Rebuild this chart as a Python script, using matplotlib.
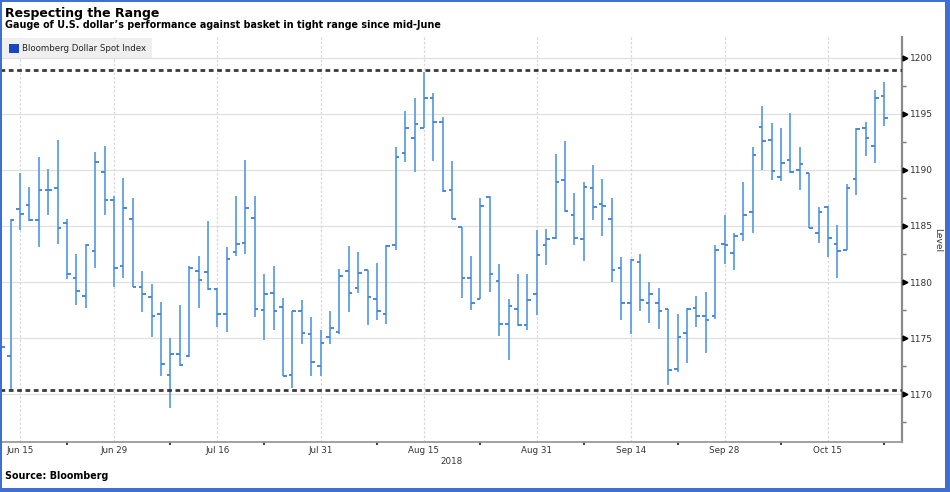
import matplotlib
matplotlib.use("Agg")
import matplotlib.pyplot as plt
import matplotlib.transforms as mtransforms
from matplotlib.patches import Rectangle
import pandas as pd
import numpy as np

# ---------------- data ----------------
dates = pd.bdate_range("2018-06-13", "2018-10-23")

opens = [1176.5, 1173.4, 1186.5, 1186.9, 1185.5, 1188.2, 1188.4, 1185.3, 1180.4, 1178.8,
         1182.8, 1189.8, 1187.3, 1181.4, 1185.6, 1179.6, 1178.7, 1177.2, 1171.7, 1173.6,
         1173.4, 1181.0, 1180.9, 1179.4, 1177.2, 1182.7, 1183.5, 1185.7, 1177.5, 1179.0,
         1177.8, 1171.7, 1177.4, 1175.4, 1172.5, 1175.1, 1175.6, 1181.0, 1179.5, 1181.1,
         1178.5, 1177.2, 1183.3, 1191.5, 1192.8, 1193.7, 1196.4, 1194.3, 1188.2, 1184.9,
         1180.4, 1178.5, 1187.6, 1180.1, 1176.3, 1177.6, 1176.2, 1178.9, 1183.3, 1183.9,
         1189.1, 1186.0, 1183.8, 1188.4, 1187.0, 1185.6, 1181.3, 1178.1, 1181.8, 1178.1,
         1178.1, 1177.6, 1172.3, 1175.5, 1177.7, 1177.0, 1177.0, 1183.4, 1182.6, 1184.3,
         1186.2, 1193.8, 1192.7, 1189.4, 1190.9, 1190.0, 1189.7, 1184.4, 1186.7, 1183.4,
         1182.9, 1189.2, 1193.7, 1192.1, 1196.6]
highs = [1179.6, 1185.6, 1189.7, 1188.5, 1191.1, 1190.1, 1192.7, 1185.6, 1182.5, 1183.4,
         1191.6, 1192.1, 1187.7, 1189.3, 1187.5, 1181.0, 1179.8, 1178.2, 1175.0, 1178.0,
         1181.4, 1182.3, 1185.4, 1179.5, 1183.1, 1187.7, 1190.9, 1187.7, 1180.7, 1181.4,
         1178.6, 1177.4, 1178.4, 1176.9, 1175.7, 1177.4, 1181.2, 1183.2, 1182.7, 1181.1,
         1181.7, 1183.3, 1192.0, 1195.2, 1196.4, 1198.7, 1196.8, 1194.7, 1190.8, 1184.9,
         1182.3, 1187.5, 1187.7, 1181.6, 1178.5, 1180.7, 1180.7, 1184.6, 1184.7, 1191.4,
         1192.6, 1187.9, 1188.9, 1190.4, 1189.2, 1187.5, 1182.2, 1182.1, 1182.5, 1180.0,
         1179.5, 1177.6, 1177.2, 1177.7, 1178.8, 1179.1, 1183.3, 1186.0, 1184.4, 1188.9,
         1192.0, 1195.7, 1194.2, 1193.7, 1195.1, 1192.0, 1189.7, 1186.7, 1186.8, 1185.1,
         1188.7, 1193.7, 1194.3, 1197.1, 1197.8]
lows = [1173.3, 1170.4, 1184.6, 1185.4, 1183.1, 1186.0, 1183.4, 1180.3, 1178.0, 1177.7,
        1181.3, 1186.0, 1179.6, 1180.4, 1179.6, 1177.3, 1175.1, 1171.6, 1168.8, 1172.5,
        1173.3, 1177.7, 1179.3, 1176.0, 1175.6, 1182.3, 1182.5, 1176.9, 1174.8, 1175.7,
        1171.6, 1170.6, 1174.5, 1171.6, 1171.6, 1174.5, 1175.4, 1177.3, 1179.0, 1176.2,
        1176.6, 1176.3, 1182.9, 1190.7, 1189.8, 1193.7, 1190.8, 1188.0, 1185.6, 1178.6,
        1177.5, 1178.5, 1179.1, 1175.2, 1173.1, 1176.1, 1175.7, 1177.1, 1181.5, 1183.8,
        1186.2, 1183.3, 1181.9, 1185.5, 1184.1, 1180.0, 1176.6, 1175.4, 1177.4, 1176.4,
        1175.8, 1170.8, 1172.0, 1172.8, 1176.0, 1173.7, 1176.7, 1181.6, 1181.1, 1183.7,
        1184.4, 1190.0, 1189.1, 1189.0, 1189.7, 1188.2, 1184.8, 1183.5, 1182.2, 1180.4,
        1182.9, 1187.8, 1191.2, 1190.6, 1193.9]
closes = [1174.2, 1185.5, 1186.1, 1185.5, 1188.2, 1188.2, 1184.8, 1180.7, 1179.2, 1183.3,
          1190.7, 1187.3, 1181.3, 1186.6, 1179.6, 1178.9, 1177.0, 1172.7, 1173.6, 1172.6,
          1181.3, 1180.2, 1179.4, 1177.2, 1182.1, 1183.4, 1186.6, 1177.6, 1178.9, 1177.4,
          1171.6, 1177.4, 1175.5, 1172.9, 1174.6, 1175.9, 1180.5, 1179.0, 1180.8, 1178.7,
          1177.4, 1183.2, 1191.1, 1193.7, 1194.1, 1196.4, 1194.3, 1188.1, 1185.6, 1180.4,
          1178.1, 1186.8, 1180.7, 1176.3, 1177.9, 1176.2, 1178.4, 1182.4, 1183.8, 1188.9,
          1186.3, 1183.9, 1188.5, 1186.7, 1186.8, 1181.1, 1178.1, 1182.0, 1178.4, 1178.9,
          1177.4, 1172.2, 1175.1, 1177.6, 1177.0, 1176.6, 1182.9, 1183.3, 1184.1, 1186.0,
          1191.3, 1192.6, 1189.9, 1190.6, 1189.8, 1190.5, 1184.8, 1186.2, 1183.9, 1182.8,
          1188.4, 1193.6, 1192.8, 1196.4, 1194.6]

range_high = 1198.9
range_low = 1170.4

label_dates = ["2018-06-15", "2018-06-29", "2018-07-16", "2018-07-31", "2018-08-15",
               "2018-08-31", "2018-09-14", "2018-09-28", "2018-10-15"]
label_texts = ["Jun 15", "Jun 29", "Jul 16", "Jul 31", "Aug 15",
               "Aug 31", "Sep 14", "Sep 28", "Oct 15"]
minor_dates = ["2018-06-22", "2018-07-09", "2018-07-23", "2018-08-08", "2018-08-23",
               "2018-09-07", "2018-09-21", "2018-10-08", "2018-10-23"]

title = "Respecting the Range"
subtitle = "Gauge of U.S. dollar\u2019s performance against basket in tight range since mid-June"
legend_label = "Bloomberg Dollar Spot Index"
source = "Source: Bloomberg"

# ---------------- figure ----------------
W, H = 950, 492
fig = plt.figure(figsize=(W / 100, H / 100), dpi=100)
fig.patch.set_facecolor("white")

def fy(py):
    return 1 - py / H

ax = fig.add_axes([0 / W, fy(442), 902 / W, (442 - 37) / H])
ax.set_facecolor("white")

x = np.arange(len(dates))
date_pos = {d: i for i, d in enumerate(dates)}
lab_pos = [date_pos[pd.Timestamp(d)] for d in label_dates]
min_pos = [date_pos[pd.Timestamp(d)] for d in minor_dates]

ax.set_xlim(-0.13, 95.88)
ax.set_ylim(1165.76, 1201.83)

# grid
for v in range(1170, 1201, 5):
    ax.axhline(v, color="#e0e0e0", lw=0.9, zorder=0)
for p in lab_pos:
    ax.axvline(p, color="#d8d8d8", lw=0.9, ls=(0, (2, 1.5)), zorder=0)

# range lines
for v in (range_high, range_low):
    ax.axhline(v, color="#3a3a3a", lw=2.0, dashes=(1.7, 1.3), zorder=3)

# OHLC bars
bar_c = "#6aa6e6"
tick_c = "#4a88d8"
ax.vlines(x, lows, highs, color=bar_c, lw=1.4, zorder=2)
ax.hlines(opens, x - 0.38, x, color=tick_c, lw=1.4, zorder=2)
ax.hlines(closes, x, x + 0.38, color=tick_c, lw=1.4, zorder=2)

# spines
for s in ("top", "left"):
    ax.spines[s].set_visible(False)
ax.spines["right"].set_color("#8a8a8a")
ax.spines["right"].set_linewidth(1.6)
ax.spines["bottom"].set_color("#9a9a9a")
ax.spines["bottom"].set_linewidth(1.3)

# y axis on right
ax.yaxis.tick_right()
ax.set_yticks(range(1170, 1201, 5))
ax.set_yticks(np.arange(1167.5, 1201, 2.5), minor=True)
ax.tick_params(axis="y", which="major", length=0, pad=6, labelsize=6.5, labelcolor="#333333")
ax.tick_params(axis="y", which="minor", length=3, width=1, color="#777777")
trans = mtransforms.blended_transform_factory(ax.transAxes, ax.transData)
ax.plot([1.003] * 7, list(range(1170, 1201, 5)), ls="none", marker=">", ms=3.5,
        color="black", transform=trans, clip_on=False, zorder=5)
fig.text(938 / W, fy(240), "Level", rotation=270, ha="center", va="center",
         fontsize=6.5, color="#333333")

# x axis
ax.set_xticks(lab_pos)
ax.set_xticklabels(label_texts)
ax.set_xticks(min_pos, minor=True)
ax.tick_params(axis="x", which="major", length=0, pad=3, labelsize=6.3, labelcolor="#333333")
ax.tick_params(axis="x", which="minor", length=2, width=1.5, color="#444444")
fig.text(452 / W, fy(461), "2018", ha="center", va="center", fontsize=6.3, color="#333333")

# legend box
ax_leg = fig.add_axes([0, fy(58), 152 / W, 20 / H])
ax_leg.set_axis_off()
ax_leg.add_patch(Rectangle((0, 0), 1, 1, transform=ax_leg.transAxes, facecolor="#efefef",
                           edgecolor="none"))
fig.patches.append(Rectangle((9 / W, fy(53)), 10 / W, 9 / H, transform=fig.transFigure,
                             facecolor="#1746c0", edgecolor="none", zorder=6))
fig.text(22 / W, fy(48.5), legend_label, ha="left", va="center", fontsize=6.2,
         color="#222222", zorder=6)

# titles
fig.text(5 / W, fy(13), title, ha="left", va="center", fontsize=9, fontweight="bold",
         color="black")
fig.text(5 / W, fy(25.5), subtitle, ha="left", va="center", fontsize=6.9, fontweight="bold",
         color="black")
fig.text(5 / W, fy(476), source, ha="left", va="center", fontsize=6.9, fontweight="bold",
         color="black")

# blue frame
frame_c = "#3f6fd0"
for (px, py, pw, ph) in [(0, 0, 2, H), (0, 0, W, 2), (0, H - 4, W, 4), (W - 5, 0, 5, H)]:
    fig.patches.append(Rectangle((px / W, fy(py + ph)), pw / W, ph / H,
                                 transform=fig.transFigure, facecolor=frame_c,
                                 edgecolor="none", zorder=10))

fig.savefig("out.png", dpi=100)
